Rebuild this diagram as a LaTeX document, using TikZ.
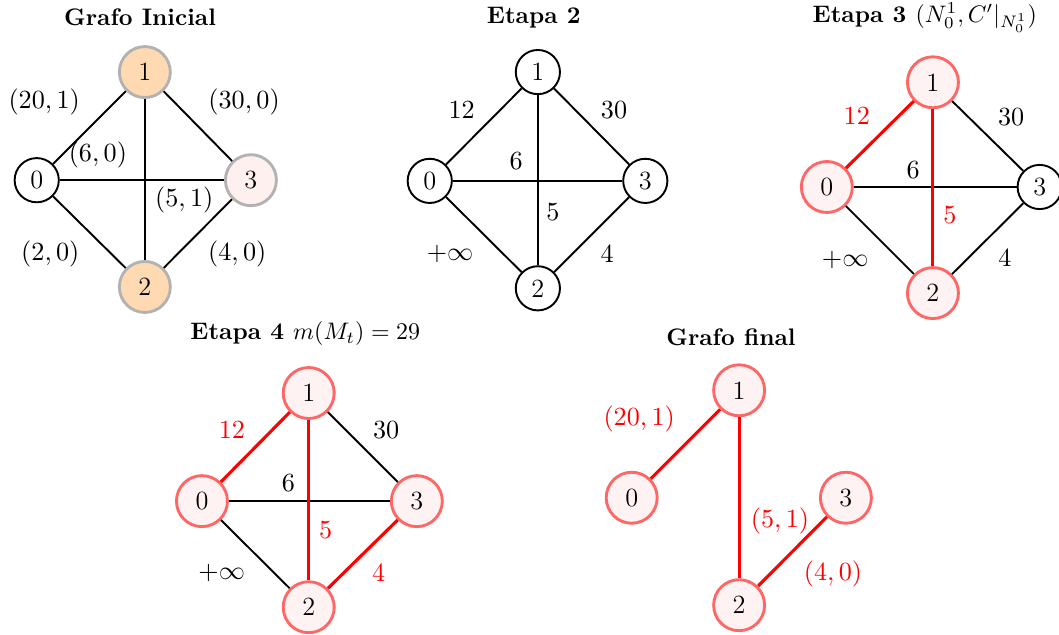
\documentclass[tikz,border=0pt]{standalone}
\usepackage{amsmath}

\begin{document}
\begin{tikzpicture}[
    vertex/.style={circle, draw=black, thick, fill=white, minimum size=0.65cm, inner sep=0pt, font=\fontsize{11}{13}\selectfont},
    picked/.style={circle, draw=gray!60, very thick, fill=orange!30, minimum size=0.75cm, inner sep=0pt, font=\fontsize{11}{13}\selectfont},
    seen/.style={circle, draw=gray!60, very thick, fill=red!6, minimum size=0.75cm, inner sep=0pt, font=\fontsize{11}{13}\selectfont},
    marked/.style={circle, draw=red!60, very thick, fill=red!5, minimum size=0.75cm, inner sep=0pt, font=\fontsize{11}{13}\selectfont},
    link/.style={thick},
    redlink/.style={red, line width=1.3pt},
    weight/.style={font=\fontsize{11}{13}\selectfont},
    redtext/.style={weight, text=red},
    heading/.style={font=\bfseries}
]
    \useasboundingbox (0,0) rectangle (15.574,-9.324);

    % Grafo inicial
    \node[heading] (T1) at (2.06,-0.26) {Grafo Inicial};
    \node[picked] (A1) at (2.13,-1.06) {1};
    \node[vertex] (A0) at (0.54,-2.65) {0};
    \node[seen]   (A3) at (3.69,-2.65) {3};
    \node[picked] (A2) at (2.13,-4.22) {2};
    \draw[link] (A0) -- (A1);
    \draw[link] (A1) -- (A3);
    \draw[link] (A0) -- (A3);
    \draw[link] (A1) -- (A2);
    \draw[link] (A0) -- (A2);
    \draw[link] (A2) -- (A3);
    \node[weight] (A01) at (0.65,-1.50) {$(20,1)$};
    \node[weight] (A13) at (3.59,-1.50) {$(30,0)$};
    \node[weight] (A03) at (1.44,-2.28) {$(6,0)$};
    \node[weight] (A12) at (2.71,-2.94) {$(5,1)$};
    \node[weight] (A02) at (0.74,-3.74) {$(2,0)$};
    \node[weight] (A23) at (3.49,-3.74) {$(4,0)$};

    % Etapa 2
    \node[heading] (T2) at (7.85,-0.26) {Etapa 2};
    \node[vertex] (B1) at (7.91,-1.06) {1};
    \node[vertex] (B0) at (6.32,-2.66) {0};
    \node[vertex] (B3) at (9.49,-2.66) {3};
    \node[vertex] (B2) at (7.91,-4.24) {2};
    \draw[link] (B0) -- (B1);
    \draw[link] (B1) -- (B3);
    \draw[link] (B0) -- (B3);
    \draw[link] (B1) -- (B2);
    \draw[link] (B0) -- (B2);
    \draw[link] (B2) -- (B3);
    \node[weight] (B01) at (6.79,-1.62) {$12$};
    \node[weight] (B13) at (9.03,-1.62) {$30$};
    \node[weight] (B03) at (7.59,-2.37) {$6$};
    \node[weight] (B12) at (8.13,-3.12) {$5$};
    \node[weight] (B02) at (6.62,-3.74) {$+\infty$};
    \node[weight] (B23) at (8.93,-3.74) {$4$};

    % Etapa 3
    \node[heading] (T3) at (13.60,-0.26) {Etapa 3 \normalfont$(N_0^1, C'|_{N_0^1})$};
    \node[marked] (C1) at (13.72,-1.21) {1};
    \node[marked] (C0) at (12.16,-2.75) {0};
    \node[vertex] (C3) at (15.29,-2.75) {3};
    \node[marked] (C2) at (13.72,-4.31) {2};
    \draw[link] (C1) -- (C3);
    \draw[link] (C0) -- (C3);
    \draw[link] (C0) -- (C2);
    \draw[link] (C2) -- (C3);
    \draw[redlink] (C0) -- (C1);
    \draw[redlink] (C1) -- (C2);
    \node[redtext] (C01) at (12.60,-1.71) {$12$};
    \node[weight] (C13) at (14.87,-1.72) {$30$};
    \node[weight] (C03) at (13.43,-2.50) {$6$};
    \node[redtext] (C12) at (13.97,-3.16) {$5$};
    \node[weight] (C02) at (12.43,-3.82) {$+\infty$};
    \node[weight] (C23) at (14.78,-3.79) {$4$};

    % Etapa 4
    \node[heading] (T4) at (4.49,-4.91) {Etapa 4 \normalfont$m(M_t) = 29$};
    \node[marked] (D1) at (4.54,-5.78) {1};
    \node[marked] (D0) at (2.97,-7.37) {0};
    \node[marked] (D3) at (6.13,-7.37) {3};
    \node[marked] (D2) at (4.54,-8.93) {2};
    \draw[link] (D1) -- (D3);
    \draw[link] (D0) -- (D3);
    \draw[link] (D0) -- (D2);
    \draw[redlink] (D0) -- (D1);
    \draw[redlink] (D1) -- (D2);
    \draw[redlink] (D2) -- (D3);
    \node[redtext] (D01) at (3.41,-6.32) {$12$};
    \node[weight] (D13) at (5.68,-6.32) {$30$};
    \node[weight] (D03) at (4.24,-7.10) {$6$};
    \node[redtext] (D12) at (4.79,-7.79) {$5$};
    \node[weight] (D02) at (3.26,-8.43) {$+\infty$};
    \node[redtext] (D23) at (5.57,-8.43) {$4$};

    % Grafo final
    \node[heading] (T5) at (10.75,-4.96) {Grafo final};
    \node[marked] (E1) at (10.87,-5.74) {1};
    \node[marked] (E0) at (9.29,-7.32) {0};
    \node[marked] (E3) at (12.44,-7.32) {3};
    \node[marked] (E2) at (10.87,-8.90) {2};
    \draw[redlink] (E0) -- (E1);
    \draw[redlink] (E1) -- (E2);
    \draw[redlink] (E2) -- (E3);
    \node[redtext] (E01) at (9.40,-6.16) {$(20,1)$};
    \node[redtext] (E12) at (11.47,-7.66) {$(5,1)$};
    \node[redtext] (E23) at (12.25,-8.44) {$(4,0)$};

\end{tikzpicture}
\end{document}
